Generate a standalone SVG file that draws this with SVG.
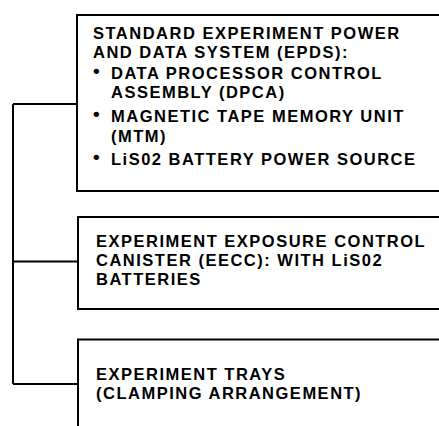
<svg xmlns="http://www.w3.org/2000/svg" width="439" height="426" viewBox="0 0 439 426">
<style>
.ln{fill:none;stroke:#000;stroke-width:2;}
.t{font-family:"Liberation Sans",Arial,sans-serif;font-weight:bold;font-size:16.5px;letter-spacing:1.5px;fill:#000;}
.b{font-family:"Liberation Sans",Arial,sans-serif;font-weight:bold;font-size:19px;fill:#000;}
</style>
<rect width="439" height="426" fill="#fff"/>
<g id="connectors">
<path class="ln" d="M13,104 V384 M13,104 H77 M13,261.5 H78 M13,384 H78"/>
</g>
<g id="node-epds">
<path class="ln" d="M440,15 H77 V191 H440"/>
<text class="t" x="93" y="39">STANDARD EXPERIMENT POWER</text>
<text class="t" x="93" y="57.5">AND DATA SYSTEM (EPDS):</text>
<text class="b" x="93" y="77">•</text>
<text class="t" x="111" y="79">DATA PROCESSOR CONTROL</text>
<text class="t" x="111" y="98">ASSEMBLY (DPCA)</text>
<text class="b" x="93" y="120">•</text>
<text class="t" x="111" y="122">MAGNETIC TAPE MEMORY UNIT</text>
<text class="t" x="111" y="141.5">(MTM)</text>
<text class="b" x="93" y="163">•</text>
<text class="t" x="111" y="165">LiS02 BATTERY POWER SOURCE</text>
</g>
<g id="node-eecc">
<path class="ln" d="M440,217 H78 V309 H440"/>
<text class="t" x="96" y="247">EXPERIMENT EXPOSURE CONTROL</text>
<text class="t" x="96" y="266">CANISTER (EECC):  WITH LiS02</text>
<text class="t" x="96" y="285">BATTERIES</text>
</g>
<g id="node-trays">
<path class="ln" d="M440,339.5 H78 V427"/>
<text class="t" x="96" y="380">EXPERIMENT TRAYS</text>
<text class="t" x="96" y="398.5">(CLAMPING ARRANGEMENT)</text>
</g>
</svg>
